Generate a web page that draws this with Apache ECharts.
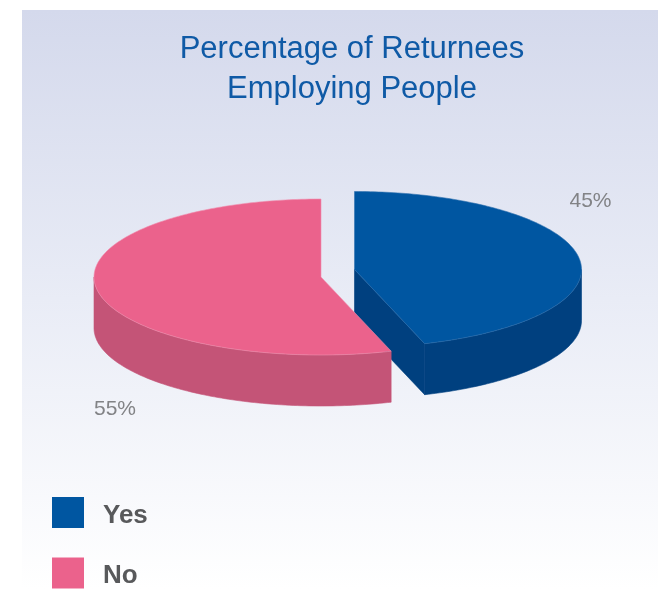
<!DOCTYPE html>
<html>
<head>
<meta charset="utf-8">
<style>html,body{margin:0;padding:0;background:#fff}#chart{width:658px;height:589px}</style>
<script src="https://cdn.jsdelivr.net/npm/echarts@6/dist/echarts.min.js"></script>
</head>
<body>
<div id="chart"></div>
<script>
// Share of returnees who employ people
const categories = ['Yes', 'No'];
const shares = [45, 55];

// Per-slice look of the tilted pie: disc centre, top colour, wall colour, label anchor
const RX = 227, RY = 78, DEPTH = 51;
const sliceStyles = [
  { cx: 354.5, cy: 269.5, top: '#0056a1', wall: '#00407f', edge: '#2f70ae', labelX: 590.5, labelY: 201 },
  { cx: 321, cy: 277, top: '#eb628c', wall: '#c45477', edge: '#f08fae', labelX: 115, labelY: 409 }
];

const total = shares.reduce((a, b) => a + b, 0);
const startFractions = shares.map((_, i) => shares.slice(0, i).reduce((a, b) => a + b, 0) / total);

// Point on the tilted rim; the angle runs clockwise from twelve o'clock
function rim(s, angle, drop) {
  return [s.cx + RX * Math.sin(angle), s.cy - RY * Math.cos(angle) + drop];
}

function arcPoints(s, from, to, drop) {
  const steps = Math.max(2, Math.ceil(Math.abs(to - from) / (Math.PI / 180)));
  const pts = [];
  for (let k = 0; k <= steps; k++) pts.push(rim(s, from + (to - from) * k / steps, drop));
  return pts;
}

function sliceRenderer(index) {
  return function (params, api) {
    const s = sliceStyles[index];
    const a0 = startFractions[index] * 2 * Math.PI;
    const a1 = a0 + api.value(0) / total * 2 * Math.PI;
    const children = [];
    const wallStyle = { fill: s.wall, stroke: s.wall, lineWidth: 0.6 };
    // Cut face at the end of the slice, visible only when it turns toward the viewer
    if (Math.sin(a1) > 0 && Math.cos(a1) < 0) {
      children.push({
        type: 'polygon',
        shape: { points: [[s.cx, s.cy], rim(s, a1, 0), rim(s, a1, DEPTH), [s.cx, s.cy + DEPTH]] },
        style: wallStyle
      });
    }
    // Outer wall across the front half of the disc
    const wallFrom = Math.max(a0, Math.PI / 2);
    const wallTo = Math.min(a1, 3 * Math.PI / 2);
    if (wallTo > wallFrom) {
      const upper = arcPoints(s, wallFrom, wallTo, 0);
      const lower = arcPoints(s, wallTo, wallFrom, DEPTH);
      children.push({
        type: 'polygon',
        shape: { points: upper.concat(lower) },
        style: wallStyle
      });
    }
    // Top face
    children.push({
      type: 'polygon',
      shape: { points: [[s.cx, s.cy]].concat(arcPoints(s, a0, a1, 0)) },
      style: { fill: s.top, stroke: s.edge, lineWidth: 0.6 }
    });
    // Percentage label
    children.push({
      type: 'text',
      style: {
        text: api.value(0) + '%',
        x: s.labelX,
        y: s.labelY,
        align: 'center',
        verticalAlign: 'middle',
        fill: '#828386',
        font: '21px "Liberation Sans", Arial, sans-serif'
      }
    });
    return { type: 'group', children: children };
  };
}

const chart = echarts.init(document.getElementById('chart'), null, { renderer: 'canvas' });
chart.setOption({
  animation: false,
  backgroundColor: '#ffffff',
  graphic: [{
    type: 'rect',
    z: -10,
    silent: true,
    shape: { x: 22, y: 10, width: 636, height: 579 },
    style: {
      fill: new echarts.graphic.LinearGradient(0, 0, 0, 1, [
        { offset: 0, color: '#d4d9ec' },
        { offset: 0.5, color: '#e9ecf6' },
        { offset: 1, color: '#ffffff' }
      ])
    }
  }],
  title: {
    text: 'Percentage of Returnees\nEmploying People',
    left: 352,
    top: 29,
    padding: 0,
    textAlign: 'center',
    textStyle: {
      color: '#0f5aa6',
      fontFamily: '"Liberation Sans", Arial, sans-serif',
      fontWeight: 'normal',
      fontSize: 31,
      lineHeight: 40
    }
  },
  legend: {
    orient: 'vertical',
    left: 52,
    top: 497,
    height: 140,
    padding: 0,
    itemWidth: 32,
    itemHeight: 31,
    itemGap: 29,
    icon: 'rect',
    selectedMode: false,
    data: categories,
    formatter: '{t|{name}}',
    textStyle: {
      padding: [0, 0, 0, 14],
      rich: {
        t: {
          color: '#58595b',
          fontFamily: '"Liberation Sans", Arial, sans-serif',
          fontWeight: 'bold',
          fontSize: 26,
          padding: [6, 0, 0, 0]
        }
      }
    }
  },
  series: categories.map((name, i) => ({
    type: 'custom',
    name: name,
    coordinateSystem: 'none',
    silent: true,
    z: 2 + i,
    itemStyle: { color: sliceStyles[i].top },
    renderItem: sliceRenderer(i),
    data: [shares[i]]
  }))
});
</script>
</body>
</html>
